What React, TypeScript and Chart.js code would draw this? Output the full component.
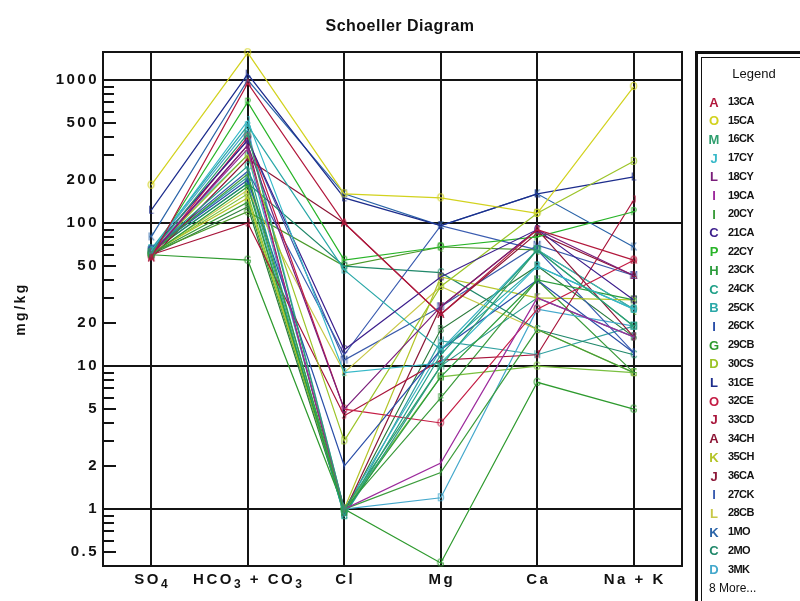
import React, { useEffect, useRef } from "react";
import { Chart, registerables } from "chart.js";

Chart.register(...registerables);

// ---------- data ----------
const categories = ["SO₄", "HCO₃ + CO₃", "Cl", "Mg", "Ca", "Na + K"];
const yTickValues = [0.5, 1, 2, 5, 10, 20, 50, 100, 200, 500, 1000];
const yDecades = [1, 10, 100, 1000];
const yMin = 0.4;
const yMax = 1570;

const seriesNames = [
  "13CA", "15CA", "16CK", "17CY", "18CY", "19CA", "20CY", "21CA", "22CY", "23CK",
  "24CK", "25CK", "26CK", "29CB", "30CS", "31CE", "32CE", "33CD", "34CH", "35CH",
  "36CA", "27CK", "28CB", "1MO", "2MO", "3MK",
  "more1", "more2", "more3", "more4", "more5", "more6", "more7", "more8",
];
const seriesLetters = [
  "A", "O", "M", "J", "L", "I", "I", "C", "P", "H",
  "C", "B", "I", "G", "D", "L", "O", "J", "A", "K",
  "J", "I", "L", "K", "C", "D",
  "E", "F", "N", "Q", "B", "M", "G", "H",
];
const seriesColors = [
  "#b2183c", "#d2d21e", "#2e9e6e", "#36b8c8", "#7a1e7a", "#9c2a9c", "#3c9c3c", "#3c1e8c", "#28b428", "#2c9c3c",
  "#20a088", "#2aa8a8", "#2a4ea8", "#2e9a2e", "#9cc428", "#1c2c8c", "#c41c44", "#a8143a", "#8c1434", "#b4c428",
  "#8c1838", "#3a5cb0", "#c8c848", "#2a64a8", "#20886a", "#44a8cc",
  "#3a9a3a", "#2a9a8a", "#3ab0c0", "#4a9a2a", "#2a7a3a", "#3a5aaa", "#7ac040", "#30a0a0",
];

// values: SO4, HCO3+CO3, Cl, Mg, Ca, Na+K  (mg/kg)
const s13CA = [57, 950, 100, 23, 90, 55];
const s15CA = [184, 1550, 160, 150, 117, 900];
const s16CK = [62, 420, 1.0, 10, 65, 19];
const s17CY = [64, 520, 9, 10.5, 50, 25];
const s18CY = [60, 350, 5, 26, 90, 43];
const s19CA = [62, 330, 1.0, 2.1, 30, 16];
const s20CY = [63, 220, 1.0, 1.8, 18, 9];
const s21CA = [65, 380, 13, 42, 90, 29];
const s22CY = [61, 700, 55, 68, 80, 120];
const s23CK = [60, 180, 0.95, 8.4, 40, 29];
const s24CK = [64, 250, 0.9, 12, 65, 19];
const s25CK = [66, 480, 47, 13, 50, 25];
const s26CK = [65, 200, 2, 13, 40, 12.4];
const s29CB = [60, 55, 1.0, 0.42, 7.7, 5];
const s30CS = [62, 300, 3, 36, 117, 270];
const s31CE = [123, 1100, 150, 96, 160, 210];
const s32CE = [58, 400, 5, 4, 25, 55];
const s33CD = [60, 100, 4.5, 11, 12, 145];
const s34CH = [57, 280, 100, 23, 85, 43];
const s35CH = [62, 150, 1.0, 42, 30, 29];
const s36CA = [59, 350, 0.95, 26, 90, 16];
const s27CK = [64, 230, 12, 96, 65, 12.4];
const s28CB = [61, 170, 9, 36, 18, 9];
const s1MO = [80, 1000, 160, 96, 160, 68];
const s2MO = [63, 190, 50, 45, 18, 12];
const s3MK = [65, 450, 1.0, 1.2, 25, 19];
const sMore1 = [61, 140, 1.0, 6, 40, 9];
const sMore2 = [63, 190, 0.9, 10, 30, 16];
const sMore3 = [66, 300, 1.0, 13, 65, 25];
const sMore4 = [62, 120, 50, 68, 65, 25];
const sMore5 = [60, 130, 0.95, 18, 50, 16];
const sMore6 = [64, 380, 11, 26, 70, 43];
const sMore7 = [61, 160, 1.0, 8.4, 10, 9];
const sMore8 = [65, 210, 0.9, 15, 12, 19];

const seriesValues = [
  s13CA, s15CA, s16CK, s17CY, s18CY, s19CA, s20CY, s21CA, s22CY, s23CK,
  s24CK, s25CK, s26CK, s29CB, s30CS, s31CE, s32CE, s33CD, s34CH, s35CH,
  s36CA, s27CK, s28CB, s1MO, s2MO, s3MK,
  sMore1, sMore2, sMore3, sMore4, sMore5, sMore6, sMore7, sMore8,
];
const legendShown = 26;
const legendMoreText = "8 More...";
const chartTitle = "Schoeller Diagram";
const yTitle = "mg/kg";
const legendTitle = "Legend";

// ---------- styling ----------
const FONT = "'Liberation Sans', Arial, sans-serif";
const GRID = "#141414";
const SUBS = "₀₁₂₃₄₅₆₇₈₉";

function makeMarker(letter: string, color: string) {
  const c = document.createElement("canvas");
  c.width = 10;
  c.height = 11;
  const g = c.getContext("2d")!;
  g.font = `10px ${FONT}`;
  g.fillStyle = color;
  g.textAlign = "center";
  g.textBaseline = "middle";
  g.fillText(letter, 5, 6);
  return c;
}

const spacingPlugin = {
  id: "spacing",
  beforeDraw(chart: any) {
    chart.ctx.letterSpacing = "2.5px";
  },
  afterDraw(chart: any) {
    chart.ctx.letterSpacing = "0px";
  },
};

const framePlugin = {
  id: "frame",
  beforeDatasetsDraw(chart: any) {
    const { ctx, chartArea } = chart;
    const y = chart.scales.y;
    ctx.save();
    ctx.strokeStyle = GRID;
    ctx.lineWidth = 2;
    ctx.strokeRect(chartArea.left, chartArea.top, chartArea.right - chartArea.left, chartArea.bottom - chartArea.top);
    for (let e = -1; e <= 3; e++) {
      for (let d = 1; d <= 9; d++) {
        const v = d * Math.pow(10, e);
        if (v <= yMin || v >= yMax || d === 1) continue;
        const py = Math.round(y.getPixelForValue(v));
        const len = d === 2 || d === 5 ? 13 : 11;
        ctx.beginPath();
        ctx.moveTo(chartArea.left, py);
        ctx.lineTo(chartArea.left + len, py);
        ctx.stroke();
      }
    }
    ctx.restore();
  },
};

// category labels with true subscripts
const xLabelPlugin = {
  id: "xLabels",
  afterDraw(chart: any) {
    const { ctx, chartArea } = chart;
    const x = chart.scales.x;
    const mainFont = `bold 15px ${FONT}`;
    const subFont = `bold 12px ${FONT}`;
    ctx.save();
    ctx.letterSpacing = "2.5px";
    ctx.fillStyle = "#111";
    ctx.textAlign = "left";
    ctx.textBaseline = "alphabetic";
    const base = chartArea.bottom + 18;
    categories.forEach((label, i) => {
      const parts = Array.from(label).map((ch) => {
        const k = SUBS.indexOf(ch);
        return k >= 0 ? { t: String(k), sub: true } : { t: ch, sub: false };
      });
      let w = 0;
      parts.forEach((p) => {
        ctx.font = p.sub ? subFont : mainFont;
        w += ctx.measureText(p.t).width;
      });
      let px = x.getPixelForValue(i) - w / 2 + 1;
      parts.forEach((p) => {
        ctx.font = p.sub ? subFont : mainFont;
        ctx.fillText(p.t, px, base + (p.sub ? 4 : 0));
        px += ctx.measureText(p.t).width;
      });
    });
    ctx.restore();
  },
};

const titleLegendPlugin = {
  id: "titleLegend",
  afterDraw(chart: any) {
    const { ctx, width } = chart;
    ctx.save();
    ctx.letterSpacing = "0.5px";
    ctx.fillStyle = "#111";
    ctx.font = `bold 16px ${FONT}`;
    ctx.textAlign = "center";
    ctx.textBaseline = "middle";
    ctx.fillText(chartTitle, width / 2, 27);

    ctx.letterSpacing = "0px";
    ctx.strokeStyle = "#111";
    ctx.lineWidth = 3;
    ctx.strokeRect(696.5, 52.5, 200, 600);
    ctx.lineWidth = 1;
    ctx.strokeRect(701.5, 57.5, 200, 600);

    ctx.fillStyle = "#111";
    ctx.font = `13px ${FONT}`;
    ctx.textAlign = "center";
    ctx.fillText(legendTitle, 754, 74);

    const ds = chart.data.datasets;
    const step = 18.7;
    for (let i = 0; i < legendShown; i++) {
      const yy = 102 + i * step;
      ctx.font = `bold 13px ${FONT}`;
      ctx.textAlign = "center";
      ctx.fillStyle = ds[i].borderColor;
      ctx.fillText(ds[i].letter, 714, yy + 1);
      ctx.font = `bold 11px ${FONT}`;
      ctx.letterSpacing = "-0.6px";
      ctx.textAlign = "left";
      ctx.fillStyle = "#111";
      ctx.fillText(ds[i].label, 728, yy);
      ctx.letterSpacing = "0px";
    }
    ctx.font = `12px ${FONT}`;
    ctx.textAlign = "left";
    ctx.fillStyle = "#111";
    ctx.fillText(legendMoreText, 709, 102 + legendShown * step);
    ctx.restore();
  },
};

export default function App() {
  const ref = useRef<HTMLCanvasElement | null>(null);

  useEffect(() => {
    if (!ref.current) return;
    const datasets = seriesValues.map((vals, i) => ({
      label: seriesNames[i],
      letter: seriesLetters[i],
      data: vals,
      borderColor: seriesColors[i],
      backgroundColor: seriesColors[i],
      borderWidth: 1.2,
      pointStyle: makeMarker(seriesLetters[i], seriesColors[i]),
      pointRadius: 3,
      tension: 0,
      clip: 10,
    }));

    const chart = new Chart(ref.current, {
      type: "line",
      data: { labels: categories, datasets: datasets as any },
      options: {
        responsive: false,
        animation: false,
        devicePixelRatio: 1,
        layout: { padding: { top: 52, right: 118, left: 0, bottom: 0 } },
        plugins: {
          legend: { display: false },
          title: { display: false },
          tooltip: { enabled: false },
        },
        scales: {
          x: {
            type: "category",
            offset: true,
            grid: { offset: false, color: GRID, lineWidth: 2, drawTicks: false },
            border: { display: true, color: GRID, width: 2 },
            ticks: { display: false, autoSkip: false },
            afterFit: (s: any) => {
              s.height = 35;
            },
          },
          y: {
            type: "logarithmic",
            min: yMin,
            max: yMax,
            afterBuildTicks: (s: any) => {
              s.ticks = yTickValues.map((v) => ({ value: v }));
            },
            grid: {
              color: (c: any) => (c.tick && yDecades.includes(c.tick.value) ? GRID : "rgba(0,0,0,0)"),
              lineWidth: 2,
              drawTicks: false,
            },
            border: { display: true, color: GRID, width: 2 },
            ticks: {
              color: "#111",
              font: { family: FONT, size: 15, weight: "bold" },
              padding: 4,
              autoSkip: false,
              callback: (v: any) => String(v),
            },
            title: {
              display: true,
              text: yTitle,
              color: "#111",
              font: { family: FONT, size: 14, weight: "bold" },
              padding: { top: 13, bottom: 0 },
            },
            afterFit: (s: any) => {
              s.width = 103;
            },
          },
        },
      } as any,
      plugins: [spacingPlugin, framePlugin, xLabelPlugin, titleLegendPlugin],
    });
    return () => chart.destroy();
  }, []);

  return (
    <div style={{ position: "absolute", left: 0, top: 0, width: 800, height: 601, background: "#fff" }}>
      <canvas ref={ref} width={800} height={601} style={{ display: "block", width: 800, height: 601 }} />
    </div>
  );
}
